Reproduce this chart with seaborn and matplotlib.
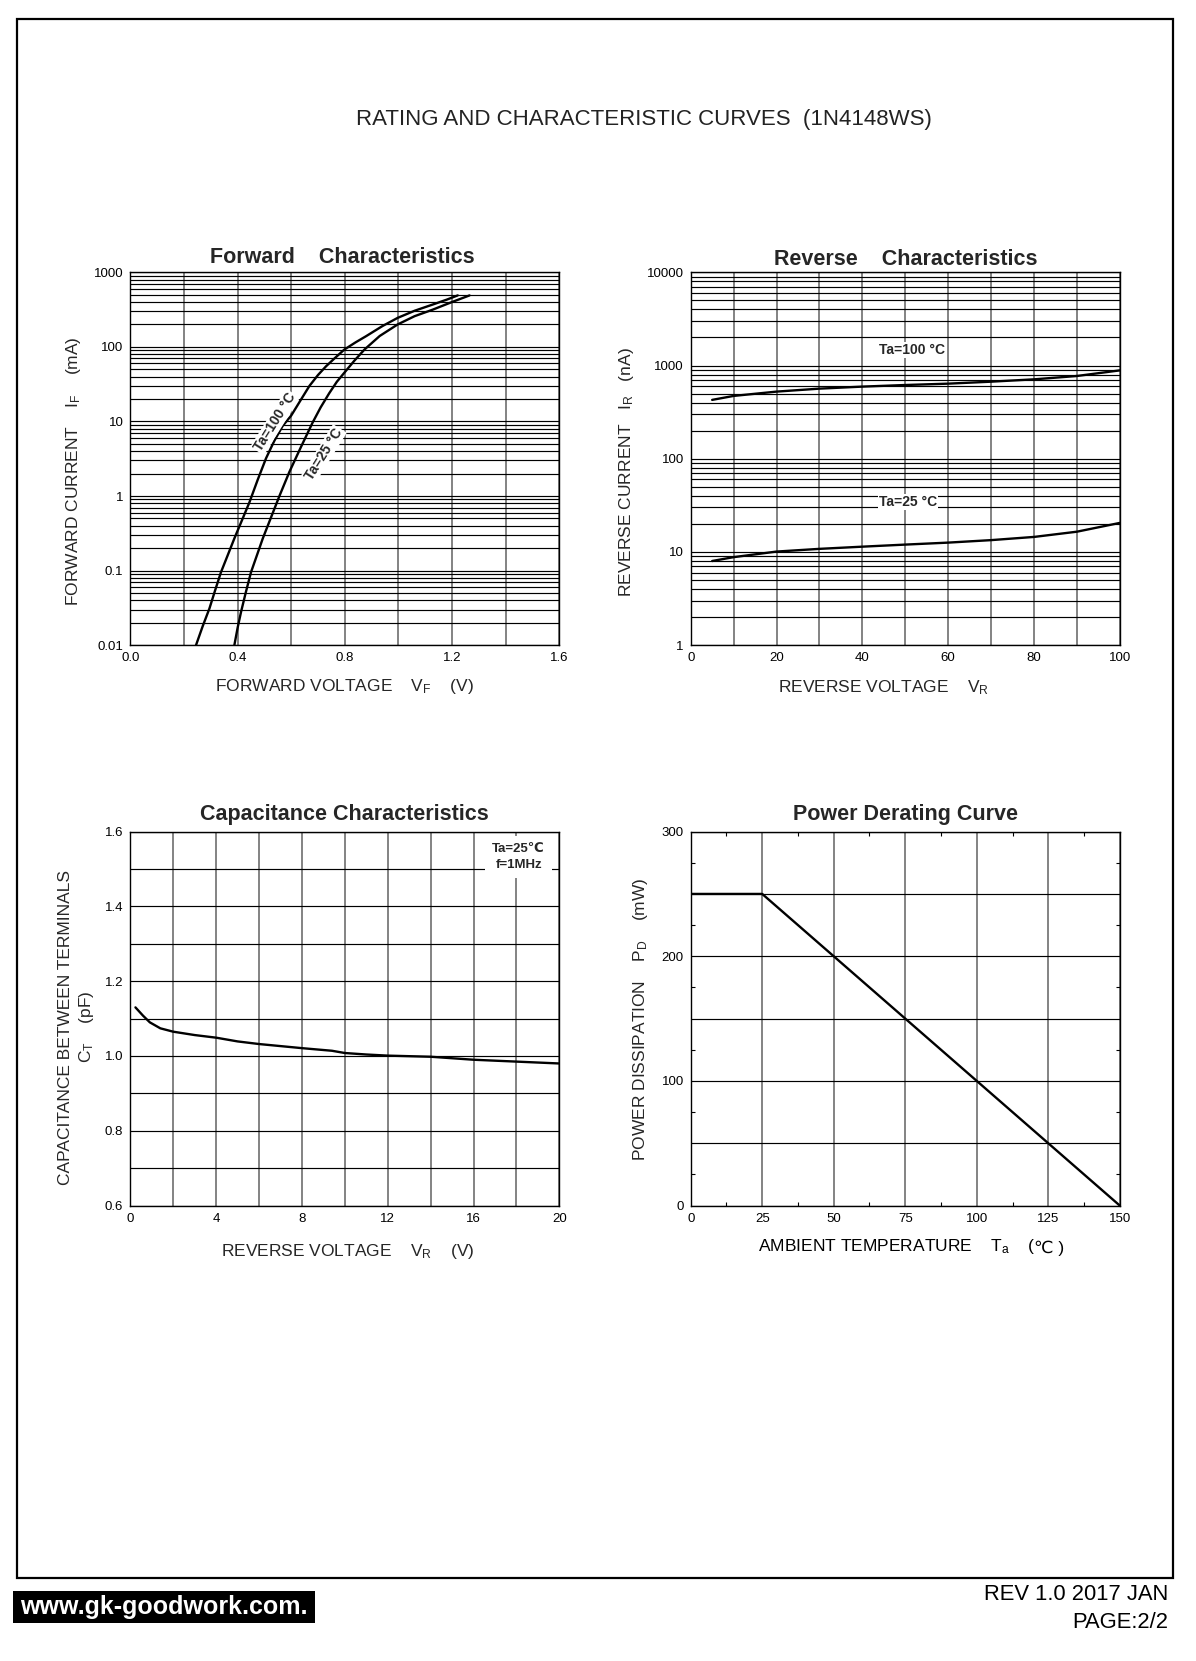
import numpy as np
import pandas as pd
import matplotlib
matplotlib.use("Agg")
import matplotlib.pyplot as plt
import matplotlib.ticker as mticker
from matplotlib.patches import Rectangle
import seaborn as sns

# ---------------- data ----------------
fwd_v_100 = [0.245, 0.270, 0.295, 0.316, 0.338, 0.363, 0.388, 0.416, 0.444, 0.475, 0.506, 0.537, 0.568,
             0.600, 0.634, 0.668, 0.700, 0.730, 0.765, 0.798, 0.840, 0.879, 0.940, 0.997, 1.060, 1.128,
             1.180, 1.221]
fwd_i_100 = [0.01, 0.018, 0.031, 0.054, 0.095, 0.16, 0.27, 0.47, 0.82, 1.65, 3.2, 5.5, 8.7,
             12.0, 19.0, 30.0, 42.0, 55.0, 72.0, 92.0, 115.0, 139.0, 190.0, 245.0, 305.0, 370.0,
             430.0, 490.0]
fwd_v_25 = [0.388, 0.400, 0.413, 0.430, 0.450, 0.472, 0.494, 0.525, 0.556, 0.593, 0.637, 0.680, 0.710,
            0.742, 0.770, 0.798, 0.835, 0.873, 0.930, 0.997, 1.060, 1.128, 1.200, 1.265]
fwd_i_25 = [0.01, 0.017, 0.028, 0.05, 0.095, 0.16, 0.27, 0.52, 1.0, 2.1, 4.6, 9.7, 15.5,
            24.0, 34.0, 45.0, 65.0, 92.0, 140.0, 200.0, 258.0, 316.0, 400.0, 490.0]

rev_v = [5, 10, 20, 30, 40, 50, 60, 70, 80, 90, 100]
rev_i_100 = [428, 472, 525, 565, 594, 618, 639, 671, 711, 772, 887]
rev_i_25 = [8.0, 8.8, 10.1, 10.8, 11.4, 12.0, 12.6, 13.4, 14.5, 16.5, 20.5]

cap_v = [0.24, 0.59, 0.91, 1.4, 2.0, 3.0, 4.0, 5.0, 6.0, 8.0, 9.4, 10.0, 11.0, 12.0, 14.0, 16.0, 18.0, 20.0]
cap_c = [1.130, 1.108, 1.090, 1.074, 1.065, 1.056, 1.049, 1.039, 1.032, 1.021, 1.014, 1.008, 1.004, 1.001,
         0.998, 0.990, 0.985, 0.980]

pwr_t = [0, 25, 150]
pwr_p = [250, 250, 0]

fwd_xticks = [0.0, 0.4, 0.8, 1.2, 1.6]
fwd_yticks = [0.01, 0.1, 1, 10, 100, 1000]
rev_xticks = [0, 20, 40, 60, 80, 100]
rev_yticks = [1, 10, 100, 1000, 10000]
cap_xticks = [0, 4, 8, 12, 16, 20]
cap_yticks = [0.6, 0.8, 1.0, 1.2, 1.4, 1.6]
pwr_xticks = [0, 25, 50, 75, 100, 125, 150]
pwr_yticks = [0, 100, 200, 300]

# ---------------- style ----------------
sns.set_theme(style="white")
plt.rcParams['font.family'] = ['Liberation Sans', 'DejaVu Sans']
plt.rcParams['mathtext.default'] = 'regular'
plt.rcParams['axes.edgecolor'] = 'black'
plt.rcParams['axes.linewidth'] = 1.0

W, H = 1196, 1661
fig = plt.figure(figsize=(W / 100, H / 100), dpi=100)
fig.patch.set_facecolor('white')

def fx(px):
    return px / W

def fy(py):
    return 1 - py / H

def make_ax(x0, y0, x1, y1):
    return fig.add_axes([fx(x0), fy(y1), fx(x1) - fx(x0), (y1 - y0) / H])

VGRID = dict(color='#6e6e6e', linewidth=1.2)
HGRID = dict(color='black', linewidth=0.85)
TICKFS = 9.5
LABFS = 12.5
TITFS = 15.5
CURVE = dict(color='black', linewidth=1.7)

def style_common(ax):
    ax.tick_params(axis='both', which='both', length=0, labelsize=TICKFS, colors='black', pad=5)
    for s in ax.spines.values():
        s.set_color('black')
        s.set_linewidth(1.0)
    ax.set_axisbelow(True)

def place_labels(ax, xl, yl, xcoords, ycoords, **ykw):
    if xl is not None:
        ax.set_xlabel(xl, fontsize=LABFS, va='center')
        ax.xaxis.set_label_coords(*xcoords)
    ax.set_ylabel(yl, fontsize=LABFS, va='center', **ykw)
    ax.yaxis.set_label_coords(*ycoords)

# ---------------- Forward ----------------
ax1 = make_ax(130.3, 272.3, 559.4, 645.2)
df100 = pd.DataFrame({'V': fwd_v_100, 'I': fwd_i_100})
df25 = pd.DataFrame({'V': fwd_v_25, 'I': fwd_i_25})
sns.lineplot(data=df100, x='V', y='I', ax=ax1, estimator=None, sort=False, **CURVE)
sns.lineplot(data=df25, x='V', y='I', ax=ax1, estimator=None, sort=False, **CURVE)
ax1.set_yscale('log')
ax1.set_xlim(0, 1.6)
ax1.set_ylim(0.01, 1000)
ax1.xaxis.set_major_locator(mticker.FixedLocator(fwd_xticks))
ax1.xaxis.set_minor_locator(mticker.MultipleLocator(0.2))
ax1.xaxis.set_major_formatter(mticker.FormatStrFormatter('%.1f'))
ax1.yaxis.set_major_locator(mticker.FixedLocator(fwd_yticks))
ax1.yaxis.set_minor_locator(mticker.LogLocator(base=10, subs=np.arange(2, 10), numticks=50))
ax1.yaxis.set_major_formatter(mticker.FuncFormatter(lambda v, p: f"{v:g}"))
ax1.yaxis.set_minor_formatter(mticker.NullFormatter())
ax1.grid(True, axis='x', which='both', **VGRID)
ax1.grid(True, axis='y', which='both', **HGRID)
style_common(ax1)
place_labels(ax1, r'FORWARD VOLTAGE    V$_F$    (V)', r'FORWARD CURRENT    I$_F$    (mA)',
             (0.50, -0.112), (-0.133, 0.466))
ax1.set_title('Forward    Characteristics', fontsize=TITFS, fontweight='bold', pad=7, x=0.493)
lab_bbox = dict(facecolor='white', edgecolor='none', pad=0.8)
ax1.text(0.54, 9.8, 'Ta=100 °C', rotation=58, fontsize=10, fontweight='bold',
         ha='center', va='center', rotation_mode='anchor', bbox=lab_bbox)
ax1.text(0.722, 3.66, 'Ta=25 °C', rotation=58, fontsize=10, fontweight='bold',
         ha='center', va='center', rotation_mode='anchor', bbox=lab_bbox)

# ---------------- Reverse ----------------
ax2 = make_ax(690.7, 272.3, 1119.8, 645.2)
dr100 = pd.DataFrame({'V': rev_v, 'I': rev_i_100})
dr25 = pd.DataFrame({'V': rev_v, 'I': rev_i_25})
sns.lineplot(data=dr100, x='V', y='I', ax=ax2, estimator=None, **CURVE)
sns.lineplot(data=dr25, x='V', y='I', ax=ax2, estimator=None, **CURVE)
ax2.set_yscale('log')
ax2.set_xlim(0, 100)
ax2.set_ylim(1, 10000)
ax2.xaxis.set_major_locator(mticker.FixedLocator(rev_xticks))
ax2.xaxis.set_minor_locator(mticker.MultipleLocator(10))
ax2.yaxis.set_major_locator(mticker.FixedLocator(rev_yticks))
ax2.yaxis.set_minor_locator(mticker.LogLocator(base=10, subs=np.arange(2, 10), numticks=50))
ax2.yaxis.set_major_formatter(mticker.FuncFormatter(lambda v, p: f"{v:g}"))
ax2.yaxis.set_minor_formatter(mticker.NullFormatter())
ax2.grid(True, axis='x', which='both', **VGRID)
ax2.grid(True, axis='y', which='both', **HGRID)
style_common(ax2)
place_labels(ax2, r'REVERSE VOLTAGE    V$_R$', r'REVERSE CURRENT   I$_R$   (nA)',
             (0.4505, -0.115), (-0.1505, 0.463))
ax2.set_title('Reverse    Characteristics', fontsize=TITFS, fontweight='bold', pad=5)
ax2.text(51.5, 1468, 'Ta=100 °C', fontsize=10, fontweight='bold', ha='center', va='center', bbox=lab_bbox)
ax2.text(50.6, 34.3, 'Ta=25 °C', fontsize=10, fontweight='bold', ha='center', va='center', bbox=lab_bbox)

# ---------------- Capacitance ----------------
ax3 = make_ax(130.3, 831.6, 559.4, 1205.6)
dc = pd.DataFrame({'V': cap_v, 'C': cap_c})
sns.lineplot(data=dc, x='V', y='C', ax=ax3, estimator=None, **CURVE)
ax3.set_xlim(0, 20)
ax3.set_ylim(0.6, 1.6)
ax3.xaxis.set_major_locator(mticker.FixedLocator(cap_xticks))
ax3.xaxis.set_minor_locator(mticker.MultipleLocator(2))
ax3.yaxis.set_major_locator(mticker.FixedLocator(cap_yticks))
ax3.yaxis.set_minor_locator(mticker.MultipleLocator(0.1))
ax3.yaxis.set_major_formatter(mticker.FormatStrFormatter('%.1f'))
ax3.grid(True, axis='x', which='both', **VGRID)
ax3.grid(True, axis='y', which='both', **HGRID)
style_common(ax3)
place_labels(ax3, r'REVERSE VOLTAGE    V$_R$    (V)',
             'CAPACITANCE BETWEEN TERMINALS\n' + r'C$_T$    (pF)',
             (0.507, -0.124), (-0.1235, 0.4775), linespacing=1.3)
ax3.set_title('Capacitance Characteristics', fontsize=TITFS, fontweight='bold', pad=8)
ax3.text(18.1, 1.532, 'Ta=25℃\nf=1MHz', fontsize=9.5, fontweight='bold', ha='center', va='center',
         linespacing=1.4, bbox=dict(facecolor='white', edgecolor='none', pad=5))

# ---------------- Power ----------------
ax4 = make_ax(690.7, 831.6, 1119.8, 1205.6)
dp = pd.DataFrame({'T': pwr_t, 'P': pwr_p})
sns.lineplot(data=dp, x='T', y='P', ax=ax4, estimator=None, **CURVE)
ax4.set_xlim(0, 150)
ax4.set_ylim(0, 300)
ax4.xaxis.set_major_locator(mticker.FixedLocator(pwr_xticks))
ax4.xaxis.set_minor_locator(mticker.MultipleLocator(12.5))
ax4.yaxis.set_major_locator(mticker.MultipleLocator(50))
ax4.yaxis.set_minor_locator(mticker.MultipleLocator(25))
ax4.yaxis.set_major_formatter(mticker.FuncFormatter(lambda v, p: f"{v:g}" if v in pwr_yticks else ""))
ax4.grid(True, axis='x', which='major', **VGRID)
ax4.grid(True, axis='y', which='major', **HGRID)
style_common(ax4)
ax4.tick_params(axis='both', which='minor', length=3, width=0.8, direction='in',
                top=True, right=True, bottom=True, left=True, colors='black')
place_labels(ax4, None, r'POWER DISSIPATION    P$_D$    (mW)', None, (-0.118, 0.497))
ax4.set_xlabel('')
# x label built from two pieces so the ℃ sign can use the fallback font
t1 = ax4.text(0.158, -0.1214, r'AMBIENT TEMPERATURE    T$_a$    (', transform=ax4.transAxes,
              ha='left', va='baseline', fontsize=LABFS, color='black')
ax4.annotate('℃ )', xy=(1, 0), xycoords=t1, xytext=(-1.5, 0), textcoords='offset points',
             ha='left', va='bottom', fontsize=LABFS, color='black', annotation_clip=False)
ax4.set_title('Power Derating Curve', fontsize=TITFS, fontweight='bold', pad=8)

for ax in (ax1, ax2, ax3, ax4):
    for ln in ax.get_lines():
        ln.set_zorder(3)

# ---------------- page decorations ----------------
fig.text(fx(644), fy(120), 'RATING AND CHARACTERISTIC CURVES  (1N4148WS)', fontsize=16,
         ha='center', va='center', color='#222222')
fig.add_artist(Rectangle((fx(17), fy(1578)), fx(1173) - fx(17), (1578 - 19) / H,
                         transform=fig.transFigure, fill=False, edgecolor='black', linewidth=1.6))
fig.add_artist(Rectangle((fx(13), fy(1623)), fx(315) - fx(13), (1623 - 1591) / H,
                         transform=fig.transFigure, facecolor='black', edgecolor='none'))
fig.text(fx(164), fy(1607), 'www.gk-goodwork.com.', fontsize=18, fontweight='bold', color='white',
         ha='center', va='center')
fig.text(fx(1168), fy(1595), 'REV 1.0 2017 JAN', fontsize=15.8, ha='right', va='center', color='black')
fig.text(fx(1168), fy(1623), 'PAGE:2/2', fontsize=15.8, ha='right', va='center', color='black')

fig.savefig('out.png', dpi=100, facecolor='white')
